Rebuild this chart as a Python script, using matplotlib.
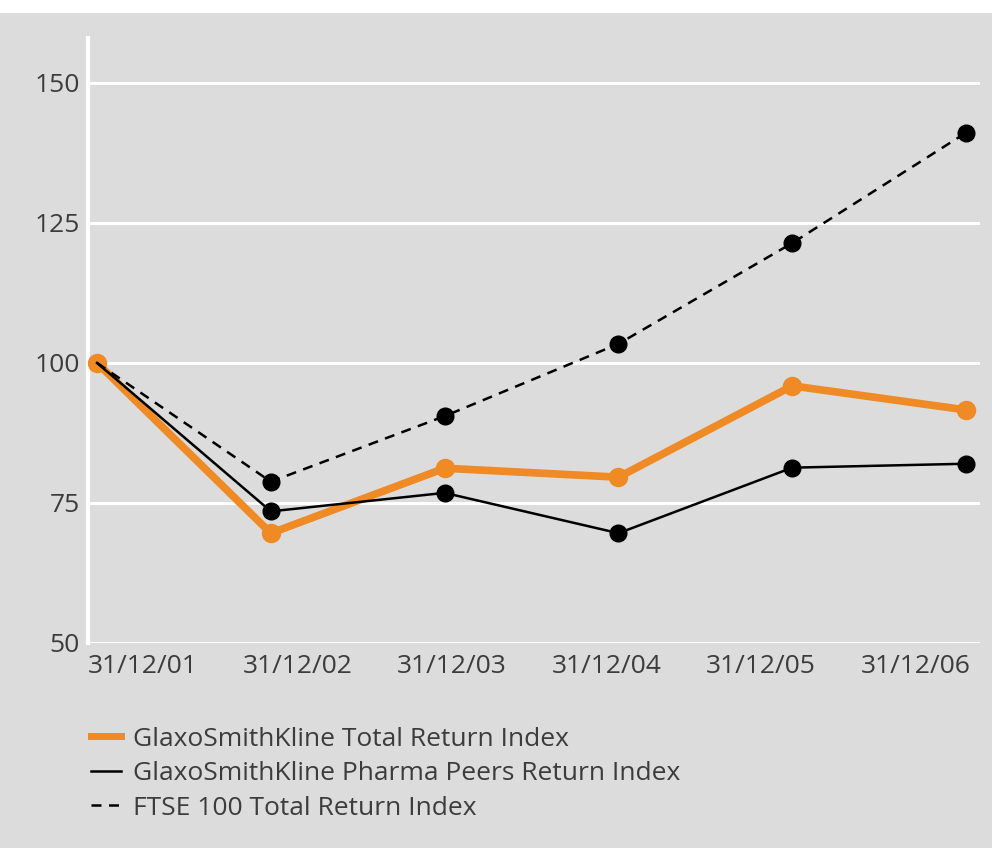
import numpy as np
import matplotlib.pyplot as plt
from matplotlib.patches import Rectangle
from matplotlib.lines import Line2D

# Index values, rebased to 100 at 31/12/01
dates = ["31/12/01", "31/12/02", "31/12/03", "31/12/04", "31/12/05", "31/12/06"]
gsk_total = [100, 69.6, 81.2, 79.6, 95.9, 91.6]
pharma_peers = [100, 73.5, 76.8, 69.6, 81.3, 82.0]
ftse_100 = [100, 78.8, 90.5, 103.4, 121.4, 141.1]
y_ticks = [50, 75, 100, 125, 150]

BG = "#dcdcdc"
ORANGE = "#ef8a24"
TEXT = "#3c3c3c"

plt.rcParams["font.family"] = ["Open Sans", "DejaVu Sans"]

fig = plt.figure(figsize=(9.92, 8.48), dpi=100, facecolor=BG)
# white strip along the top edge
fig.patches.append(Rectangle((0, 1 - 13 / 848), 1, 13 / 848, transform=fig.transFigure,
                             facecolor="white", edgecolor="none", zorder=0))

ax = fig.add_axes([88 / 992, 1 - 643 / 848, (980 - 88) / 992, (643 - 38) / 848])
ax.set_facecolor(BG)

x = np.arange(len(dates))

ax.plot(x, gsk_total, color=ORANGE, lw=5.5, marker="o", ms=13, zorder=3,
        solid_capstyle="round")
ax.plot(x, pharma_peers, color="black", lw=1.8, marker="o", ms=12,
        markevery=list(range(1, len(x))), zorder=4)
ax.plot(x, ftse_100, color="black", lw=1.8, ls=(0, (4, 3)), marker="o", ms=12,
        markevery=list(range(1, len(x))), zorder=4)

ax.set_xlim(-0.052, 5.08)
ax.set_ylim(50, 158)

for y in y_ticks:
    ax.axhline(y, color="white", lw=2.2, zorder=1)

for s in ["top", "right", "bottom"]:
    ax.spines[s].set_visible(False)
ax.spines["left"].set_color("white")
ax.spines["left"].set_linewidth(3)

ax.set_yticks(y_ticks)
ax.set_yticklabels([str(v) for v in y_ticks])
# date labels sit on their own even spacing under the plot
ax.set_xticks(np.linspace(0.265, 4.71, len(dates)))
ax.set_xticklabels(dates)
ax.tick_params(axis="both", length=0, labelsize=19, labelcolor=TEXT)
ax.tick_params(axis="y", pad=6)
ax.tick_params(axis="x", pad=8)

handles = [
    Line2D([], [], color=ORANGE, lw=5),
    Line2D([], [], color="black", lw=1.8),
    Line2D([], [], color="black", lw=1.8, ls=(0, (4, 3))),
]
labels = [
    "GlaxoSmithKline Total Return Index",
    "GlaxoSmithKline Pharma Peers Return Index",
    "FTSE 100 Total Return Index",
]
fig.legend(handles, labels, loc="upper left", bbox_to_anchor=(80 / 992, 1 - 716 / 848),
           frameon=False, fontsize=19, labelcolor=TEXT, handlelength=1.15,
           handletextpad=0.45, labelspacing=0.36, borderaxespad=0)

fig.savefig("out.png", dpi=100, facecolor=BG)
